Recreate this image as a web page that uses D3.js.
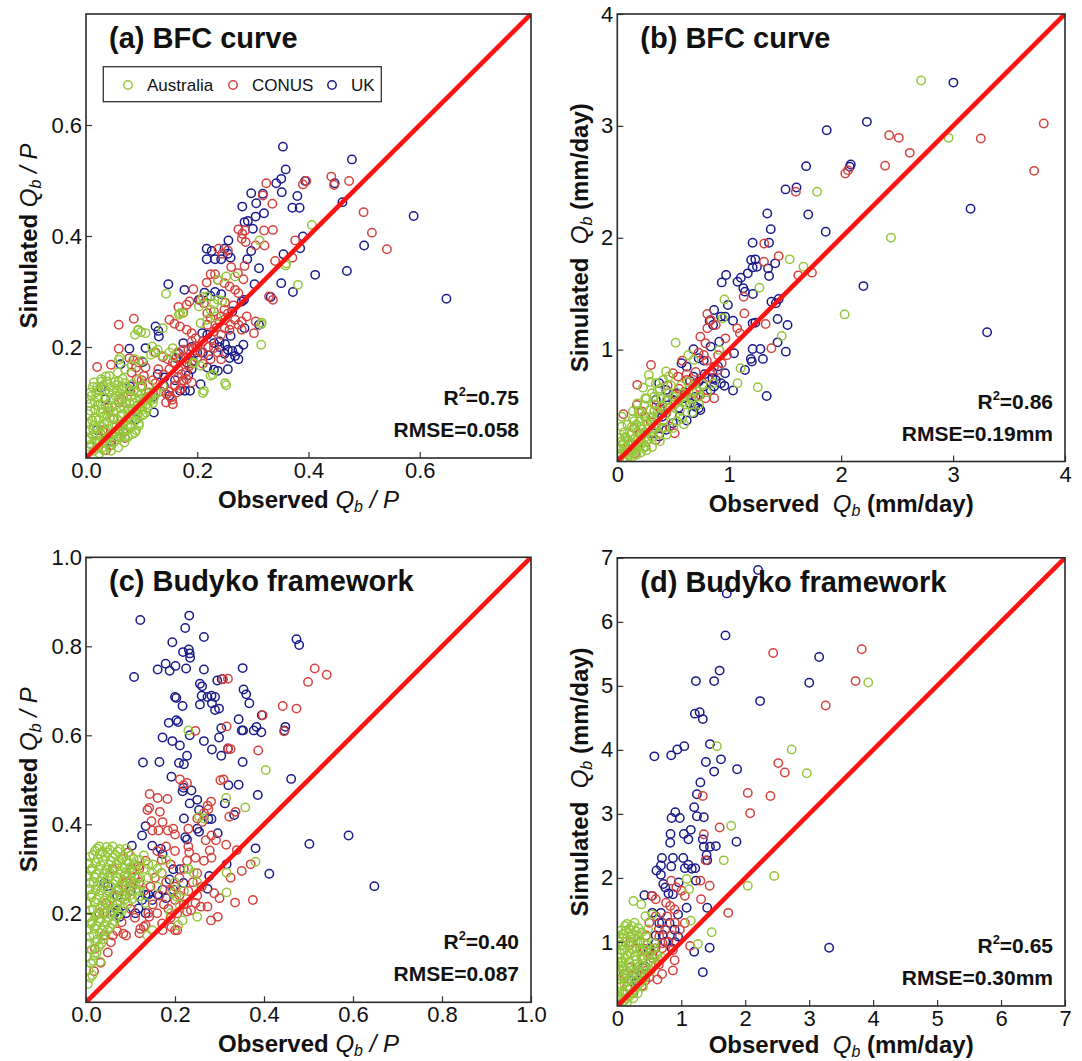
<!DOCTYPE html>
<html>
<head>
<meta charset="utf-8">
<script src="https://cdn.jsdelivr.net/npm/d3@7"></script>
<style>
  body { margin: 0; background: #fff; }
  svg { display: block; font-family: "Liberation Sans", Arial, Helvetica, sans-serif; }
  text { white-space: pre; }
</style>
</head>
<body>
<svg id="chart" width="1082" height="1061"></svg>
<script>
// ---- categories / styling keys ----
const countries = ["Australia", "CONUS", "UK"];
const countryColors = ["#95c83c", "#d6433e", "#1b1b8c"];
const drawOrder = ["UK", "CONUS", "Australia"];

const panelTitles = ["(a) BFC curve", "(b) BFC curve", "(c) Budyko framework", "(d) Budyko framework"];
const statR2 = ["0.75", "0.86", "0.40", "0.65"];
const statRMSE = ["0.058", "0.19mm", "0.087", "0.30mm"];

// ---- axis ticks ----
const aTicksX = [0, 0.2, 0.4, 0.6];
const aTicksY = [0.2, 0.4, 0.6];
const bTicksX = [0, 1, 2, 3, 4];
const bTicksY = [1, 2, 3, 4];
const cTicksX = [0, 0.2, 0.4, 0.6, 0.8, 1.0];
const cTicksY = [0.2, 0.4, 0.6, 0.8, 1.0];
const dTicksX = [0, 1, 2, 3, 4, 5, 6, 7];
const dTicksY = [1, 2, 3, 4, 5, 6, 7];
const axisMax = [0.8, 4, 1, 7];

// ---- (a) baseflow coefficient, BFC curve: [observed, simulated] ----
const aAustralia = [[0.406,0.420],[0.312,0.392],[0.359,0.347],[0.381,0.312],[0.360,0.351],[0.144,0.296],[0.237,0.321],[0.252,0.327],[0.268,0.327],[0.218,0.291],[0.237,0.285],[0.169,0.261],[0.206,0.243],[0.218,0.249],[0.316,0.244],[0.315,0.204],[0.315,0.241],[0.224,0.267],[0.234,0.255],[0.088,0.222],[0.094,0.231],[0.107,0.225],[0.119,0.201],[0.129,0.195],[0.138,0.184],[0.150,0.190],[0.156,0.198],[0.088,0.178],[0.101,0.175],[0.082,0.166],[0.070,0.160],[0.061,0.181],[0.057,0.154],[0.042,0.148],[0.027,0.142],[0.014,0.136],[0.008,0.118],[0.002,0.106],[0.193,0.172],[0.206,0.166],[0.224,0.148],[0.212,0.121],[0.250,0.135],[0.252,0.131],[0.138,0.130],[0.125,0.118],[0.113,0.106],[0.095,0.058],[0.088,0.046],[0.070,0.038],[0.061,0.044],[0.093,0.230],[0.099,0.227],[0.138,0.234],[0.167,0.258],[0.174,0.261],[0.210,0.290],[0.203,0.273],[0.230,0.278],[0.245,0.283],[0.210,0.117],[0.228,0.150],[0.195,0.171],[0.158,0.183],[0.117,0.186],[0.122,0.190],[0.059,0.177],[0.036,0.147],[0.090,0.050],[0.081,0.055],[0.059,0.038],[0.036,0.027],[0.120,0.099],[0.102,0.077],
  [0.004,0.012],[0.009,0.024],[0.012,0.041],[0.016,0.031],[0.021,0.018],[0.019,0.052],[0.023,0.069],[0.027,0.043],[0.031,0.028],[0.033,0.061],[0.029,0.088],[0.036,0.049],[0.034,0.108],[0.041,0.037],[0.043,0.072],[0.039,0.097],[0.047,0.058],[0.044,0.128],[0.052,0.047],[0.049,0.083],[0.053,0.112],[0.057,0.069],[0.056,0.121],[0.062,0.057],[0.061,0.092],[0.059,0.138],[0.066,0.079],[0.067,0.109],[0.072,0.068],[0.071,0.098],[0.073,0.127],[0.077,0.088],[0.082,0.079],[0.081,0.112],[0.087,0.099],[0.091,0.087],[0.092,0.118],[0.097,0.106],[0.102,0.098],[0.104,0.079],[0.111,0.091],[0.118,0.104],[0.006,0.051],[0.004,0.079],[0.011,0.068],[0.008,0.098],[0.014,0.058],[0.017,0.087],[0.022,0.109],[0.026,0.081],[0.024,0.121],[0.031,0.131],[0.037,0.079],[0.042,0.117],[0.046,0.091],[0.051,0.137],[0.024,0.008],[0.032,0.014],[0.042,0.021],[0.051,0.029],[0.063,0.038],[0.071,0.049],[0.079,0.058],[0.088,0.067],[0.058,0.019],[0.069,0.028],[0.083,0.043],[0.014,0.013],[0.002,0.032],[0.003,0.062],[0.108,0.118],[0.098,0.128],[0.083,0.133],[0.066,0.143],[0.018,0.118],[0.012,0.128],[0.095,0.141],[0.113,0.131],[0.128,0.117],
  [0.007,0.035],[0.013,0.052],[0.018,0.072],[0.021,0.095],[0.028,0.058],[0.032,0.075],[0.038,0.065],[0.041,0.085],[0.045,0.105],[0.048,0.072],[0.052,0.095],[0.055,0.058],[0.058,0.105],[0.063,0.075],[0.065,0.125],[0.068,0.092],[0.074,0.112],[0.076,0.075],[0.079,0.098],[0.084,0.089],[0.086,0.121],[0.089,0.108],[0.094,0.095],[0.099,0.115],[0.101,0.087],[0.106,0.105],[0.109,0.097],[0.115,0.112],[0.122,0.108],[0.008,0.085],[0.010,0.112],[0.016,0.101],[0.020,0.128],[0.026,0.097],[0.028,0.138],[0.035,0.122],[0.038,0.138],[0.048,0.122],[0.054,0.131],[0.061,0.115],[0.070,0.135],[0.078,0.124],[0.035,0.035],[0.039,0.052],[0.046,0.043],[0.054,0.038],[0.059,0.048],[0.066,0.062],[0.074,0.058],[0.086,0.076],[0.093,0.078],[0.097,0.092],[0.029,0.018],[0.018,0.040],[0.025,0.030],[0.006,0.020],[0.045,0.013],[0.075,0.038],[0.095,0.062],[0.108,0.082]];
const aCONUS = [[0.441,0.507],[0.446,0.492],[0.473,0.499],[0.396,0.499],[0.390,0.493],[0.499,0.443],[0.514,0.406],[0.541,0.376],[0.324,0.495],[0.335,0.458],[0.318,0.473],[0.376,0.392],[0.371,0.361],[0.340,0.355],[0.320,0.410],[0.336,0.411],[0.305,0.383],[0.321,0.383],[0.274,0.412],[0.281,0.404],[0.286,0.410],[0.280,0.395],[0.287,0.389],[0.238,0.377],[0.245,0.368],[0.255,0.374],[0.285,0.346],[0.261,0.344],[0.273,0.333],[0.224,0.331],[0.232,0.331],[0.237,0.321],[0.217,0.316],[0.249,0.315],[0.258,0.309],[0.268,0.303],[0.274,0.297],[0.283,0.322],[0.193,0.304],[0.206,0.285],[0.212,0.279],[0.186,0.282],[0.181,0.276],[0.166,0.272],[0.175,0.262],[0.218,0.261],[0.230,0.264],[0.224,0.252],[0.249,0.267],[0.243,0.255],[0.329,0.291],[0.336,0.285],[0.289,0.255],[0.280,0.246],[0.302,0.225],[0.305,0.246],[0.059,0.240],[0.086,0.251],[0.059,0.197],[0.020,0.164],[0.150,0.249],[0.159,0.242],[0.169,0.237],[0.181,0.231],[0.190,0.225],[0.197,0.216],[0.218,0.240],[0.230,0.228],[0.243,0.222],[0.249,0.234],[0.258,0.231],[0.268,0.249],[0.274,0.240],[0.280,0.231],[0.230,0.198],[0.237,0.190],[0.243,0.178],[0.224,0.178],[0.206,0.190],[0.193,0.198],[0.184,0.195],[0.125,0.190],[0.138,0.182],[0.147,0.178],[0.156,0.172],[0.166,0.160],[0.172,0.151],[0.181,0.142],[0.190,0.136],[0.172,0.136],[0.159,0.130],[0.163,0.118],[0.153,0.109],[0.144,0.100],[0.156,0.097],[0.095,0.172],[0.107,0.163],[0.082,0.154],[0.091,0.142],[0.101,0.130],[0.113,0.118],[0.064,0.106],[0.076,0.088],[0.067,0.046],[0.070,0.036],[0.033,0.046],[0.045,0.023],[0.036,0.014],[0.150,0.120],[0.160,0.130],[0.170,0.125],[0.165,0.145],[0.175,0.140],[0.155,0.105],[0.145,0.115],[0.180,0.155],[0.078,0.180],[0.085,0.176],[0.045,0.168],[0.090,0.163],[0.104,0.148],[0.020,0.030],[0.030,0.050],[0.050,0.070],[0.060,0.100],[0.040,0.090],[0.080,0.120],[0.100,0.140],[0.120,0.140],[0.130,0.160],
  [0.110,0.110],[0.125,0.135],[0.135,0.120],[0.140,0.150],[0.150,0.160],[0.160,0.170],[0.170,0.180],[0.180,0.180],[0.190,0.170],[0.200,0.200],[0.210,0.210],[0.220,0.200],[0.190,0.210],[0.200,0.180],[0.175,0.195],[0.185,0.165],[0.165,0.190],[0.210,0.170],[0.225,0.215],[0.235,0.235],[0.250,0.250],[0.260,0.240],[0.255,0.260],[0.240,0.245],[0.265,0.275],[0.250,0.280]];
const aUK = [[0.354,0.561],[0.478,0.538],[0.359,0.520],[0.342,0.495],[0.351,0.503],[0.352,0.479],[0.297,0.477],[0.318,0.476],[0.306,0.459],[0.394,0.499],[0.447,0.495],[0.380,0.472],[0.371,0.451],[0.384,0.451],[0.461,0.461],[0.589,0.436],[0.281,0.453],[0.305,0.435],[0.320,0.441],[0.285,0.425],[0.291,0.427],[0.300,0.413],[0.256,0.392],[0.390,0.399],[0.500,0.383],[0.217,0.377],[0.226,0.373],[0.249,0.377],[0.255,0.368],[0.217,0.358],[0.232,0.358],[0.243,0.358],[0.260,0.361],[0.290,0.358],[0.297,0.373],[0.355,0.367],[0.385,0.378],[0.311,0.342],[0.412,0.330],[0.469,0.337],[0.351,0.315],[0.372,0.299],[0.303,0.313],[0.332,0.290],[0.648,0.287],[0.148,0.313],[0.177,0.303],[0.213,0.298],[0.224,0.292],[0.232,0.299],[0.243,0.295],[0.280,0.282],[0.284,0.285],[0.263,0.264],[0.203,0.285],[0.285,0.234],[0.311,0.240],[0.209,0.225],[0.218,0.222],[0.125,0.237],[0.130,0.229],[0.131,0.219],[0.078,0.197],[0.107,0.198],[0.175,0.207],[0.230,0.207],[0.255,0.195],[0.263,0.193],[0.274,0.195],[0.283,0.204],[0.249,0.188],[0.258,0.180],[0.268,0.184],[0.274,0.178],[0.102,0.173],[0.167,0.188],[0.162,0.180],[0.181,0.172],[0.192,0.175],[0.218,0.163],[0.230,0.159],[0.237,0.157],[0.255,0.160],[0.062,0.169],[0.129,0.151],[0.141,0.145],[0.169,0.121],[0.178,0.121],[0.187,0.121],[0.206,0.133],[0.184,0.149],[0.150,0.112],[0.122,0.082],[0.027,0.127],[0.035,0.106],[0.079,0.129],[0.020,0.050],[0.045,0.030],[0.060,0.050],[0.090,0.070],[0.120,0.110],[0.140,0.130],[0.160,0.140],[0.190,0.160],[0.200,0.190],[0.240,0.210],[0.260,0.220],[0.190,0.200],[0.210,0.190],[0.220,0.185],[0.240,0.200],[0.250,0.205]];

// ---- (b) baseflow, BFC curve (mm/day) ----
const bAustralia = [[2.715,3.405],[2.960,2.893],[1.785,2.411],[2.445,2.000],[1.540,1.807],[1.663,1.741],[1.270,1.554],[2.031,1.315],[0.957,1.449],[0.942,1.280],[1.469,1.122],[1.101,0.833],[1.074,0.699],[1.255,0.664],[0.521,1.062],[0.911,0.997],[0.635,0.952],[0.681,0.908],[0.595,0.333],[0.604,0.536],[0.650,0.506],[0.727,0.580],[0.250,0.565],[0.344,0.699],[0.282,0.774],[0.436,0.804],
  [0.02,0.05],[0.03,0.11],[0.05,0.03],[0.05,0.16],[0.07,0.08],[0.08,0.13],[0.08,0.21],[0.11,0.05],[0.10,0.10],[0.11,0.26],[0.12,0.17],[0.13,0.31],[0.15,0.10],[0.16,0.21],[0.15,0.36],[0.18,0.26],[0.19,0.14],[0.21,0.20],[0.21,0.31],[0.20,0.43],[0.23,0.12],[0.24,0.26],[0.26,0.36],[0.26,0.18],[0.28,0.29],[0.29,0.46],[0.31,0.22],[0.31,0.36],[0.33,0.51],[0.34,0.30],[0.36,0.41],[0.37,0.25],[0.39,0.56],[0.41,0.36],[0.43,0.46],[0.46,0.61],[0.49,0.41],[0.51,0.51],[0.53,0.36],[0.56,0.46],[0.59,0.61],[0.61,0.51],[0.63,0.71],[0.66,0.56],[0.71,0.63],[0.73,0.51],[0.76,0.69],[0.31,0.61],[0.26,0.56],[0.36,0.63],[0.29,0.71],[0.23,0.66],[0.46,0.76],[0.41,0.73],[0.06,0.01],[0.09,0.02],[0.13,0.04],[0.17,0.06],[0.21,0.08],[0.26,0.10],[0.31,0.13],[0.02,0.21],[0.04,0.31],[0.06,0.26],[0.01,0.12],[0.04,0.40],[0.09,0.33],[0.14,0.45],[0.18,0.52],[0.38,0.18],[0.44,0.24],[0.50,0.30],[0.58,0.38],[0.67,0.44],[0.80,0.62],[0.86,0.70],
  [0.03,0.07],[0.04,0.18],[0.06,0.12],[0.07,0.22],[0.09,0.06],[0.10,0.18],[0.12,0.08],[0.12,0.24],[0.14,0.15],[0.14,0.38],[0.17,0.12],[0.17,0.33],[0.19,0.22],[0.20,0.36],[0.22,0.16],[0.22,0.29],[0.24,0.41],[0.25,0.22],[0.27,0.33],[0.28,0.20],[0.30,0.40],[0.32,0.27],[0.33,0.45],[0.35,0.33],[0.38,0.42],[0.40,0.50],[0.42,0.30],[0.44,0.55],[0.47,0.48],[0.50,0.58],[0.55,0.55],[0.57,0.68],[0.62,0.60],[0.68,0.68],[0.48,0.68],[0.38,0.65],[0.33,0.58],[0.24,0.50],[0.19,0.45]];
const bCONUS = [[3.810,3.021],[3.724,2.598],[3.248,2.887],[2.429,2.917],[2.515,2.893],[2.613,2.759],[2.393,2.643],[2.037,2.574],[2.061,2.604],[1.595,2.411],[1.313,1.949],[1.442,1.836],[1.310,1.786],[1.617,1.664],[1.739,1.688],[1.129,1.473],[1.135,1.324],[1.325,1.229],[1.071,1.190],[1.095,1.146],[0.966,1.101],[1.377,1.012],[0.804,1.318],[0.834,1.265],[0.880,1.220],[0.804,1.190],[0.301,0.863],[0.178,0.685],[0.055,0.423],[0.742,1.116],[0.788,1.057],[0.175,0.506],[0.221,0.446],[0.727,0.973],[0.773,0.952],[0.865,0.848],[0.896,0.818],[0.933,0.878],[0.865,0.565],[0.497,0.789],[0.543,0.759],[0.620,0.729],[0.436,0.432],[0.466,0.313],[0.512,0.253],[0.344,0.193],[0.252,0.134],[0.160,0.074],[0.681,0.610],[0.742,0.595],[0.788,0.565],[0.10,0.15],[0.20,0.25],[0.30,0.35],[0.35,0.50],[0.45,0.55],[0.55,0.65],[0.60,0.60],[0.40,0.30],[0.15,0.30],[0.70,0.80],
  [0.25,0.40],[0.38,0.48],[0.52,0.60],[0.62,0.78],[0.70,0.70],[0.80,0.90],[0.90,0.95],[0.58,0.90],[0.45,0.68],[0.82,0.75],[0.98,0.95]];
const bUK = [[3.003,3.387],[2.230,3.036],[1.871,2.961],[2.086,2.655],[2.077,2.634],[1.687,2.640],[1.601,2.449],[1.503,2.432],[1.340,2.217],[1.706,2.208],[1.371,2.077],[1.862,2.054],[3.156,2.259],[1.209,1.955],[1.356,1.955],[1.196,1.801],[1.233,1.807],[1.248,1.741],[1.209,1.735],[1.411,1.771],[1.347,1.726],[1.356,1.658],[1.166,1.682],[1.104,1.643],[1.074,1.607],[0.972,1.667],[0.933,1.601],[1.212,1.497],[1.126,1.548],[1.141,1.518],[2.199,1.568],[1.377,1.429],[1.417,1.414],[1.442,1.452],[0.988,1.399],[0.865,1.354],[0.825,1.259],[0.856,1.220],[0.926,1.295],[0.963,1.295],[1.034,1.259],[1.209,1.235],[1.233,1.241],[1.432,1.274],[1.521,1.220],[3.304,1.155],[0.834,1.027],[0.911,1.071],[1.209,1.006],[1.279,1.006],[1.432,1.065],[1.506,0.982],[1.193,0.917],[1.202,0.893],[1.141,0.818],[1.301,0.917],[1.043,0.967],[1.334,0.586],[1.034,0.634],[0.963,0.789],[0.681,1.003],[0.727,0.923],[0.773,0.902],[0.574,0.878],[0.620,0.848],[0.850,0.744],[0.880,0.729],[0.926,0.699],[0.957,0.676],[0.865,0.670],[0.681,0.759],[0.727,0.714],[0.773,0.670],[0.834,0.640],[0.528,0.610],[0.589,0.565],[0.650,0.521],[0.696,0.491],[0.742,0.461],[0.374,0.699],[0.436,0.640],[0.344,0.551],[0.390,0.461],[0.313,0.253],[0.374,0.223],[0.436,0.283],[0.497,0.342],[0.558,0.402],[0.620,0.366],[0.681,0.432],[0.727,0.476],
  [0.50,0.55],[0.60,0.62],[0.65,0.72],[0.70,0.58],[0.78,0.78],[0.85,0.80],[0.90,0.85],[0.55,0.48],[0.45,0.50],[0.40,0.40]];

// ---- (c) baseflow coefficient, Budyko framework ----
const cAustralia = [[0.404,0.522],[0.315,0.459],[0.358,0.438],[0.381,0.316],[0.230,0.611],[0.254,0.417],[0.265,0.413],[0.316,0.291],[0.316,0.247],[0.250,0.192],[0.207,0.173],[0.217,0.184],[0.230,0.299],[0.242,0.291],[0.196,0.245],[0.203,0.238],[0.149,0.162],[0.138,0.150],[0.134,0.223],[0.118,0.238],[0.032,0.091],
  [0.130,0.330],[0.150,0.310],[0.170,0.290],[0.200,0.270],[0.220,0.250],[0.160,0.260],[0.140,0.280],[0.120,0.250],[0.180,0.320],[0.230,0.300],[0.250,0.270],[0.210,0.220],[0.190,0.200],
  [0.004,0.041],[0.006,0.072],[0.003,0.103],[0.007,0.132],[0.004,0.163],[0.006,0.191],[0.003,0.222],[0.007,0.254],[0.004,0.283],[0.006,0.312],[0.014,0.061],[0.016,0.093],[0.013,0.118],[0.017,0.152],[0.014,0.181],[0.016,0.209],[0.013,0.242],[0.017,0.268],[0.014,0.301],[0.016,0.331],[0.024,0.112],[0.026,0.141],[0.023,0.172],[0.027,0.198],[0.024,0.231],[0.026,0.262],[0.023,0.288],[0.027,0.322],[0.025,0.346],[0.034,0.131],[0.036,0.162],[0.033,0.188],[0.037,0.219],[0.034,0.251],[0.036,0.279],[0.033,0.308],[0.037,0.338],[0.044,0.152],[0.046,0.181],[0.043,0.212],[0.047,0.238],[0.044,0.271],[0.046,0.298],[0.043,0.329],[0.047,0.349],[0.054,0.168],[0.056,0.201],[0.053,0.228],[0.057,0.259],[0.054,0.291],[0.056,0.318],[0.053,0.343],[0.064,0.182],[0.066,0.211],[0.063,0.241],[0.067,0.272],[0.064,0.302],[0.066,0.331],[0.074,0.198],[0.076,0.229],[0.073,0.258],[0.077,0.288],[0.074,0.319],[0.076,0.344],[0.084,0.212],[0.086,0.241],[0.083,0.272],[0.087,0.301],[0.084,0.329],[0.094,0.221],[0.096,0.252],[0.093,0.281],[0.097,0.312],[0.104,0.232],[0.106,0.262],[0.103,0.291],[0.107,0.322],[0.114,0.251],[0.116,0.279],[0.124,0.262],
  [0.009,0.055],[0.011,0.087],[0.008,0.147],[0.011,0.176],[0.009,0.207],[0.012,0.236],[0.008,0.268],[0.011,0.296],[0.009,0.327],[0.019,0.106],[0.021,0.135],[0.019,0.166],[0.021,0.194],[0.019,0.225],[0.022,0.253],[0.019,0.281],[0.021,0.314],[0.020,0.340],[0.029,0.125],[0.031,0.156],[0.029,0.182],[0.031,0.211],[0.029,0.241],[0.031,0.271],[0.029,0.298],[0.031,0.333],[0.039,0.142],[0.041,0.171],[0.039,0.201],[0.041,0.229],[0.039,0.262],[0.041,0.289],[0.039,0.318],[0.049,0.162],[0.051,0.191],[0.049,0.221],[0.051,0.249],[0.049,0.281],[0.051,0.309],[0.049,0.337],[0.059,0.176],[0.061,0.205],[0.059,0.236],[0.061,0.266],[0.059,0.296],[0.061,0.326],[0.069,0.192],[0.071,0.221],[0.069,0.251],[0.071,0.281],[0.069,0.311],[0.071,0.339],[0.081,0.205],[0.079,0.235],[0.081,0.262],[0.079,0.294],[0.081,0.322],[0.089,0.232],[0.091,0.262],[0.089,0.291],[0.091,0.319],[0.099,0.241],[0.101,0.272],[0.099,0.302],[0.111,0.268],[0.109,0.296],[0.119,0.282],[0.130,0.300],[0.140,0.310],[0.150,0.290],[0.160,0.300],[0.120,0.320],[0.110,0.310],[0.100,0.330],[0.090,0.345],[0.060,0.350],[0.030,0.350]];
const cCONUS = [[0.514,0.750],[0.499,0.720],[0.541,0.736],[0.319,0.727],[0.308,0.726],[0.442,0.666],[0.473,0.660],[0.397,0.645],[0.445,0.609],[0.246,0.610],[0.316,0.620],[0.319,0.571],[0.325,0.569],[0.387,0.566],[0.302,0.499],[0.309,0.501],[0.211,0.501],[0.227,0.493],[0.219,0.488],[0.143,0.468],[0.161,0.459],[0.183,0.457],[0.138,0.432],[0.142,0.437],[0.166,0.428],[0.273,0.442],[0.281,0.451],[0.275,0.434],[0.250,0.413],[0.261,0.405],[0.265,0.425],[0.322,0.417],[0.336,0.428],[0.230,0.390],[0.147,0.407],[0.172,0.405],[0.196,0.390],[0.184,0.386],[0.149,0.386],[0.163,0.386],[0.200,0.377],[0.282,0.375],[0.292,0.364],[0.269,0.364],[0.315,0.354],[0.339,0.342],[0.278,0.341],[0.282,0.325],[0.265,0.318],[0.232,0.337],[0.246,0.325],[0.227,0.318],[0.370,0.310],[0.325,0.280],[0.350,0.295],[0.335,0.224],[0.375,0.230],[0.296,0.192],[0.281,0.184],[0.300,0.234],[0.288,0.245],[0.273,0.215],[0.258,0.215],[0.246,0.223],[0.227,0.204],[0.236,0.207],[0.200,0.162],[0.192,0.169],[0.205,0.162],[0.171,0.177],[0.172,0.162],[0.134,0.173],[0.122,0.165],[0.142,0.192],[0.084,0.154],[0.056,0.135],[0.049,0.112],[0.033,0.089],[0.018,0.070],[0.041,0.200],[0.045,0.223],[0.072,0.253],[0.087,0.284],[0.103,0.299],[0.118,0.306],[0.134,0.318],[0.080,0.322],[0.095,0.337],
  [0.120,0.270],[0.130,0.250],[0.145,0.260],[0.155,0.280],[0.170,0.290],[0.180,0.270],[0.190,0.250],[0.200,0.260],[0.165,0.240],[0.175,0.220],[0.185,0.210],[0.200,0.230],[0.210,0.240],[0.150,0.220],[0.140,0.200],[0.160,0.200],[0.190,0.190],[0.205,0.200],[0.220,0.220],[0.230,0.250],[0.240,0.270],[0.250,0.290],[0.260,0.260],[0.250,0.240],[0.210,0.280],[0.220,0.300],[0.190,0.310],[0.170,0.320],[0.160,0.340],[0.180,0.350],[0.200,0.340],[0.230,0.350],[0.120,0.300],[0.110,0.280],[0.100,0.260],[0.090,0.240],[0.100,0.210],[0.110,0.190],[0.080,0.180],[0.070,0.160],[0.060,0.150],[0.090,0.150],[0.130,0.170],[0.120,0.155],[0.030,0.200],[0.050,0.250],[0.070,0.220],[0.060,0.300],[0.090,0.270],[0.040,0.150],[0.020,0.120]];
const cUK = [[0.122,0.859],[0.232,0.869],[0.223,0.841],[0.265,0.821],[0.194,0.809],[0.473,0.816],[0.479,0.803],[0.218,0.787],[0.231,0.793],[0.233,0.784],[0.234,0.774],[0.179,0.761],[0.201,0.756],[0.161,0.748],[0.188,0.745],[0.225,0.750],[0.265,0.748],[0.352,0.751],[0.108,0.731],[0.256,0.716],[0.261,0.710],[0.295,0.723],[0.305,0.726],[0.354,0.703],[0.360,0.692],[0.367,0.672],[0.200,0.686],[0.203,0.684],[0.260,0.689],[0.273,0.686],[0.282,0.689],[0.290,0.686],[0.283,0.672],[0.290,0.657],[0.299,0.660],[0.256,0.669],[0.217,0.666],[0.203,0.634],[0.207,0.630],[0.186,0.628],[0.343,0.636],[0.395,0.645],[0.383,0.619],[0.377,0.611],[0.394,0.607],[0.350,0.611],[0.353,0.611],[0.448,0.619],[0.446,0.611],[0.304,0.616],[0.233,0.600],[0.172,0.595],[0.194,0.587],[0.211,0.577],[0.265,0.587],[0.299,0.595],[0.283,0.568],[0.319,0.569],[0.227,0.554],[0.304,0.554],[0.128,0.539],[0.165,0.540],[0.209,0.538],[0.220,0.535],[0.352,0.540],[0.461,0.502],[0.192,0.507],[0.320,0.488],[0.343,0.489],[0.219,0.482],[0.237,0.476],[0.217,0.474],[0.386,0.466],[0.250,0.455],[0.233,0.447],[0.312,0.447],[0.333,0.421],[0.254,0.432],[0.275,0.412],[0.282,0.412],[0.220,0.413],[0.134,0.396],[0.250,0.390],[0.254,0.383],[0.296,0.380],[0.126,0.375],[0.223,0.371],[0.227,0.366],[0.590,0.375],[0.502,0.356],[0.381,0.346],[0.103,0.352],[0.149,0.352],[0.168,0.345],[0.172,0.333],[0.412,0.289],[0.648,0.261],[0.316,0.310],[0.277,0.284],[0.273,0.255],[0.211,0.299],[0.219,0.268],[0.196,0.253],[0.172,0.253],[0.180,0.234],[0.161,0.242],[0.149,0.230],[0.134,0.242],[0.126,0.230],[0.118,0.211],[0.111,0.200],[0.134,0.200],[0.064,0.200],[0.072,0.207],[0.076,0.192],[0.041,0.268],[0.049,0.261],[0.188,0.276],[0.196,0.299],[0.140,0.242],[0.070,0.240],[0.090,0.200],[0.100,0.250]];

// ---- (d) baseflow, Budyko framework (mm/day) ----
const dAustralia = [[3.924,5.053],[1.557,4.058],[2.727,4.005],[2.963,3.635],[1.782,2.815],[1.664,2.275],[2.453,2.032],[2.040,1.878],[1.084,1.984],[1.476,1.153],[1.149,1.333],[1.261,0.968],[0.252,1.640],[0.376,1.587],[1.122,1.825],[0.440,1.402],[0.548,1.429],
  [0.02,0.05],[0.04,0.12],[0.03,0.22],[0.06,0.30],[0.05,0.42],[0.03,0.55],[0.06,0.68],[0.04,0.82],[0.05,0.95],[0.03,1.08],[0.06,1.18],[0.10,0.08],[0.12,0.20],[0.11,0.35],[0.13,0.48],[0.10,0.60],[0.12,0.75],[0.11,0.88],[0.13,1.00],[0.10,1.12],[0.18,0.15],[0.20,0.28],[0.19,0.42],[0.21,0.55],[0.18,0.68],[0.20,0.82],[0.19,0.95],[0.21,1.08],[0.19,1.20],[0.27,0.25],[0.28,0.38],[0.26,0.52],[0.29,0.65],[0.27,0.78],[0.28,0.92],[0.26,1.05],[0.29,1.17],[0.35,0.35],[0.36,0.50],[0.34,0.62],[0.37,0.78],[0.35,0.90],[0.36,1.02],[0.43,0.45],[0.44,0.60],[0.42,0.75],[0.45,0.88],[0.52,0.55],[0.50,0.70],[0.53,0.85],[0.60,0.65],[0.62,0.80],[0.38,1.15],[0.45,1.08],[0.08,0.00],[0.15,0.05],[0.25,0.12],[0.32,0.20],[0.40,0.30],[0.70,0.75],[0.58,0.98],[0.48,1.20],[0.27,1.30],[0.15,1.28],
  [0.03,0.15],[0.05,0.35],[0.02,0.48],[0.07,0.62],[0.02,0.75],[0.07,0.88],[0.02,1.00],[0.08,1.12],[0.08,0.20],[0.09,0.45],[0.08,0.70],[0.09,0.95],[0.15,0.12],[0.16,0.38],[0.14,0.55],[0.16,0.80],[0.15,1.05],[0.14,1.18],[0.23,0.20],[0.24,0.45],[0.22,0.62],[0.24,0.88],[0.23,1.12],[0.31,0.30],[0.32,0.55],[0.30,0.72],[0.32,0.98],[0.31,1.10],[0.39,0.40],[0.40,0.62],[0.39,0.85],[0.41,0.98],[0.47,0.52],[0.48,0.78],[0.46,0.95],[0.55,0.62],[0.57,0.90],[0.65,0.72],[0.12,1.25],[0.22,1.25],[0.33,1.22]];
const dCONUS = [[3.822,5.571],[2.437,5.513],[3.725,5.074],[3.258,4.693],[2.517,3.794],[2.619,3.646],[2.040,3.328],[2.394,3.280],[2.077,3.011],[1.337,3.280],[1.600,2.788],[1.353,2.683],[1.380,2.275],[1.444,1.878],[1.310,1.667],[1.734,1.455],[0.843,1.958],[0.923,1.852],[1.004,1.799],[1.057,1.720],[1.138,0.937],[0.870,0.873],[0.896,0.714],[0.870,0.556],[0.628,0.413],[0.548,1.720],[0.601,1.667],[0.762,1.614],[0.827,1.561],[0.896,1.508],[0.386,0.317],[0.440,0.397],[0.655,1.085],[0.709,0.979],[1.057,1.296],[0.977,1.190],[1.299,1.958],[0.50,1.30],[0.60,1.40],[0.45,1.10],[0.75,1.20],[0.80,1.00],[0.55,0.80],[0.65,0.65],[0.30,0.90],[0.20,0.60],[0.40,0.75],[0.35,1.00],[0.15,0.30],[0.25,0.20],[0.70,0.50],[0.50,0.45],
  [0.45,0.55],[0.55,0.75],[0.60,0.90],[0.70,0.90],[0.85,1.10],[0.90,1.30],[0.30,0.50],[0.40,0.90],[0.20,1.00],[0.65,1.20],[0.78,1.40],[0.10,0.50]];
const dUK = [[2.201,6.810],[1.712,6.444],[1.691,5.788],[3.156,5.450],[1.600,5.238],[1.229,5.074],[1.514,5.074],[3.001,5.048],[2.233,4.762],[1.213,4.566],[1.288,4.587],[1.337,4.481],[0.580,3.899],[0.843,3.915],[0.939,4.005],[1.047,4.058],[1.449,4.090],[1.385,3.810],[1.621,3.852],[1.514,3.661],[1.873,3.698],[1.299,3.492],[1.245,3.307],[1.202,3.106],[1.245,2.963],[1.353,2.947],[0.848,2.937],[0.907,3.026],[0.977,2.937],[1.149,2.751],[1.111,2.603],[1.041,2.688],[0.832,2.688],[0.827,2.550],[1.337,2.603],[1.353,2.487],[1.449,2.487],[1.541,2.497],[1.863,2.566],[1.396,2.354],[1.406,2.275],[0.698,2.312],[0.870,2.312],[1.031,2.312],[0.682,2.196],[0.843,2.180],[1.057,2.153],[1.111,2.206],[1.165,2.143],[1.218,2.153],[0.612,2.116],[0.682,2.048],[1.229,1.958],[0.719,1.905],[0.751,1.852],[0.800,1.757],[0.870,1.746],[0.961,1.931],[0.424,1.730],[0.537,1.720],[1.084,1.534],[1.406,1.534],[0.950,1.429],[3.312,0.910],[1.444,0.910],[1.202,0.847],[1.337,0.529],[0.655,1.296],[0.709,1.111],[0.601,0.979],[0.494,0.873],[0.816,1.296],[0.896,1.190],[0.950,1.085],[0.333,0.556],[0.386,0.503],[0.440,0.608],[0.225,0.397],[0.279,0.344],[0.548,1.455],[0.682,1.455],
  [0.50,0.90],[0.60,1.10],[0.70,1.30],[0.40,0.60],[0.30,0.40],[0.75,1.00],[0.85,0.90],[0.90,1.00]];

// ---- panel assembly ----
const ratioLabel = lead => [
  { t: lead, b: true }, { t: "Q", i: true }, { t: "b", i: true, size: 16, dy: 4 },
  { t: " / ", i: true, dy: -4 }, { t: "P", i: true }
];
const depthLabel = lead => [
  { t: lead, b: true }, { t: "Q", i: true }, { t: "b", i: true, size: 16, dy: 4 },
  { t: " (mm/day)", b: true, dy: -4 }
];

const panels = [
  { box: [86, 14, 531, 458],    max: axisMax[0], xt: aTicksX, yt: aTicksY, fmt: d3.format(".1f"),
    data: { Australia: aAustralia, CONUS: aCONUS, UK: aUK },
    xl: ratioLabel("Observed "), yl: ratioLabel("Simulated "), ylx: 37, legend: true },
  { box: [617.3, 14, 1065, 461.5], max: axisMax[1], xt: bTicksX, yt: bTicksY, fmt: d3.format("d"),
    data: { Australia: bAustralia, CONUS: bCONUS, UK: bUK },
    xl: depthLabel("Observed  "), yl: depthLabel("Simulated  "), ylx: 588 },
  { box: [86, 557.3, 531, 1002.3], max: axisMax[2], xt: cTicksX, yt: cTicksY, fmt: d3.format(".1f"),
    data: { Australia: cAustralia, CONUS: cCONUS, UK: cUK },
    xl: ratioLabel("Observed "), yl: ratioLabel("Simulated "), ylx: 37 },
  { box: [617.3, 557.8, 1065, 1006], max: axisMax[3], xt: dTicksX, yt: dTicksY, fmt: d3.format("d"),
    data: { Australia: dAustralia, CONUS: dCONUS, UK: dUK },
    xl: depthLabel("Observed  "), yl: depthLabel("Simulated  "), ylx: 588 }
];

const svg = d3.select("#chart");
const H = +svg.attr("height");
const colorOf = d3.scaleOrdinal().domain(countries).range(countryColors);

function richText(textSel, parts) {
  parts.forEach(p => {
    const ts = textSel.append("tspan").text(p.t)
      .attr("font-weight", p.b ? "bold" : "normal")
      .attr("font-style", p.i ? "italic" : "normal");
    if (p.size) ts.attr("font-size", p.size);
    if (p.dy) ts.attr("dy", p.dy);
  });
}

panels.forEach((p, k) => {
  const [x0, y0, x1, y1] = p.box;
  const x = d3.scaleLinear().domain([0, p.max]).range([x0, x1]);
  const y = d3.scaleLinear().domain([0, p.max]).range([y1, y0]);
  const g = svg.append("g");

  const clipId = "clip" + k;
  svg.append("clipPath").attr("id", clipId)
    .append("rect").attr("x", x0).attr("y", y0).attr("width", x1 - x0).attr("height", y1 - y0);

  // scatter rings per country
  const plot = g.append("g").attr("clip-path", `url(#${clipId})`);
  drawOrder.forEach(c => {
    plot.append("g").selectAll("circle")
      .data(p.data[c]).join("circle")
      .attr("cx", d => x(d[0])).attr("cy", d => y(d[1]))
      .attr("r", 4.2).attr("fill", "none")
      .attr("stroke", colorOf(c)).attr("stroke-width", 1.5);
  });

  // 1:1 line
  plot.append("line")
    .attr("x1", x(0)).attr("y1", y(0)).attr("x2", x(p.max)).attr("y2", y(p.max))
    .attr("stroke", "#ff1212").attr("stroke-width", 4.6);

  // axes with inward ticks
  const ax = g.append("g").attr("transform", `translate(0,${y1})`)
    .call(d3.axisBottom(x).tickValues(p.xt).tickFormat(p.fmt)
      .tickSizeInner(-6).tickSizeOuter(0).tickPadding(4.5));
  const ay = g.append("g").attr("transform", `translate(${x0},0)`)
    .call(d3.axisLeft(y).tickValues(p.yt).tickFormat(p.fmt)
      .tickSizeInner(-6).tickSizeOuter(0).tickPadding(4));
  [ax, ay].forEach(a => {
    a.select(".domain").remove();
    a.selectAll("line").attr("stroke", "#333").attr("stroke-width", 1.2);
    a.selectAll("text").attr("font-size", 22).attr("fill", "#111")
      .attr("font-family", "'Liberation Sans', Arial, sans-serif");
  });

  // frame
  g.append("rect").attr("x", x0).attr("y", y0).attr("width", x1 - x0).attr("height", y1 - y0)
    .attr("fill", "none").attr("stroke", "#2a2a2a").attr("stroke-width", 1.6);

  // title
  g.append("text").attr("x", x0 + 23).attr("y", y0 + 34)
    .attr("font-size", 29).attr("font-weight", "bold").attr("fill", "#111")
    .text(panelTitles[k]);

  // statistics
  const st = g.append("text").attr("x", x1 - 12).attr("y", y1 - 53)
    .attr("text-anchor", "end").attr("font-size", 21).attr("font-weight", "bold").attr("fill", "#111");
  st.append("tspan").text("R");
  st.append("tspan").text("2").attr("font-size", 13).attr("dy", -9);
  st.append("tspan").text("=" + statR2[k]).attr("dy", 9);
  g.append("text").attr("x", x1 - 12).attr("y", y1 - 21)
    .attr("text-anchor", "end").attr("font-size", 21).attr("font-weight", "bold").attr("fill", "#111")
    .text("RMSE=" + statRMSE[k]);

  // axis titles (kept inside the canvas for the lower row)
  const xtY = Math.min(y1 + 50, H - 8);
  const xt = g.append("text").attr("x", (x0 + x1) / 2).attr("y", xtY)
    .attr("text-anchor", "middle").attr("font-size", 24).attr("fill", "#111");
  richText(xt, p.xl);
  const yt = g.append("text")
    .attr("transform", `translate(${p.ylx},${(y0 + y1) / 2}) rotate(-90)`)
    .attr("text-anchor", "middle").attr("font-size", 24).attr("fill", "#111");
  richText(yt, p.yl);

  // legend
  if (p.legend) {
    const lg = g.append("g");
    lg.append("rect").attr("x", 103.3).attr("y", 66.7).attr("width", 278).attr("height", 35)
      .attr("fill", "#fff").attr("stroke", "#333").attr("stroke-width", 1.3);
    const itemX = [128, 233, 332];
    countries.forEach((c, i) => {
      lg.append("circle").attr("cx", itemX[i]).attr("cy", 85).attr("r", 4.2)
        .attr("fill", "none").attr("stroke", colorOf(c)).attr("stroke-width", 1.5);
      lg.append("text").attr("x", itemX[i] + 19).attr("y", 91)
        .attr("font-size", 17).attr("fill", "#111").text(c);
    });
  }
});
</script>
</body>
</html>
